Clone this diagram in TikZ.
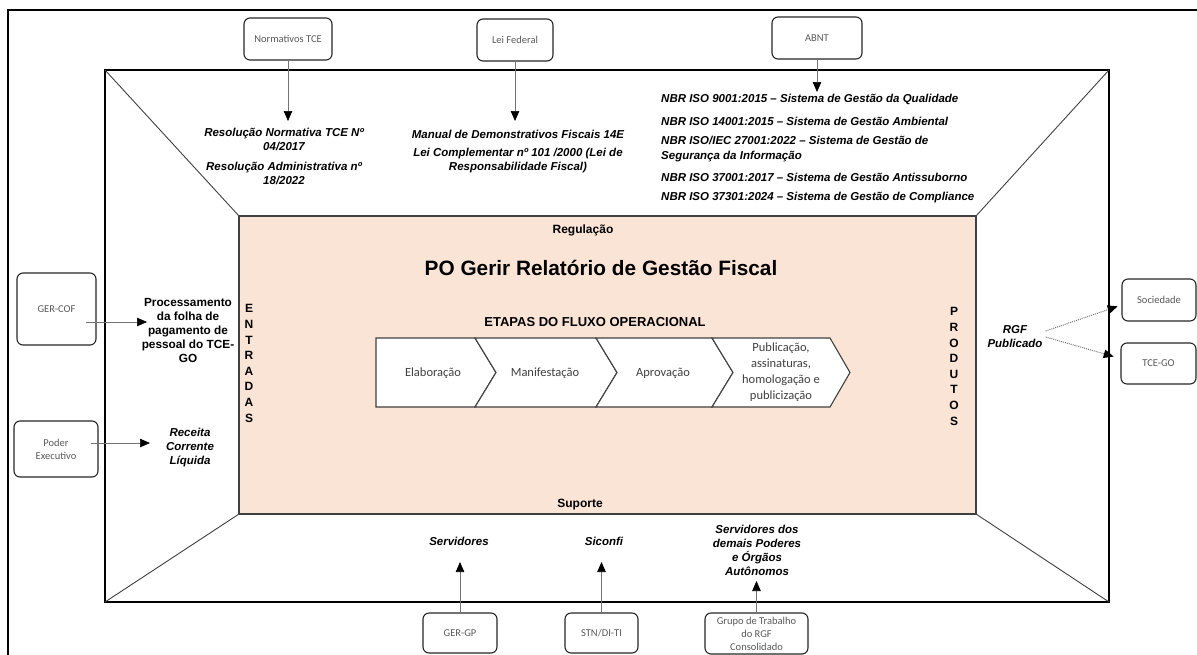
\documentclass[tikz,border=0pt]{standalone}
\usepackage{fontspec}
\setmainfont{Liberation Sans}
\newfontfamily\calib{Carlito}
\usetikzlibrary{arrows.meta,calc}
\definecolor{peach}{HTML}{FAE4D6}
\definecolor{boxtxt}{HTML}{595959}
\definecolor{chevtxt}{HTML}{404040}
\begin{document}
\begin{tikzpicture}[x=1pt,y=-1pt,
  ibox/.style={draw=black!85, line width=1.1pt, rounded corners=6pt, fill=white, text=boxtxt,
    font=\calib\fontsize{10.5}{13}\selectfont, align=center, inner sep=0pt},
  arr/.style={draw=black!55, line width=0.7pt, -{Triangle[length=10pt,width=8.5pt,color=black]}},
  dotarr/.style={draw=black!55, line width=1pt, dash pattern=on 1pt off 1pt, -{Triangle[length=10pt,width=8.5pt,color=black]}},
  itxt/.style={font=\bfseries\itshape\fontsize{11.5}{14}\selectfont, align=center, inner sep=0pt},
  btxt/.style={font=\bfseries\fontsize{11.8}{13.8}\selectfont, align=center, inner sep=0pt},
  ltxt/.style={font=\bfseries\itshape\fontsize{11.5}{15}\selectfont, align=left, inner sep=0pt, anchor=west},
  vtxt/.style={font=\bfseries\fontsize{12}{15.6}\selectfont, align=center, inner sep=0pt},
  chev/.style={draw=chevtxt, line width=1.1pt, fill=white, line join=miter},
  ctxt/.style={font=\calib\fontsize{12.5}{16}\selectfont, text=chevtxt, align=center, inner sep=0pt},
  diag/.style={draw=black!75, line width=0.9pt}
]
\useasboundingbox (0,0) rectangle (1197,654);
% outer frame (cut by page)
\draw[line width=2.2pt] (8,660) -- (8,10) -- (1200,10);
% inner frame
\draw[line width=2.8pt] (105,70) rectangle (1109,602);
% diagonals
\draw[diag] (105,70) -- (239,216);
\draw[diag] (1109,70) -- (976,216);
\draw[diag] (105,602) -- (239,514);
\draw[diag] (1109,602) -- (976,514);
% central panel
\draw[fill=peach, draw=black!75, line width=1.1pt] (239,216) rectangle (976,514);
\node[font=\bfseries\fontsize{12}{14}\selectfont, inner sep=0pt] (reg) at (583,230) {Regulação};
\node[font=\bfseries\fontsize{20.8}{24}\selectfont, inner sep=0pt] (title) at (601,268) {PO Gerir Relatório de Gestão Fiscal};
\node[font=\bfseries\fontsize{13}{15}\selectfont, inner sep=0pt] (etapas) at (595,322) {ETAPAS DO FLUXO OPERACIONAL};
\node[font=\bfseries\fontsize{12}{14}\selectfont, inner sep=0pt] (sup) at (580,505) {Suporte};
\node[vtxt] (entr) at (249,363.5) {E\\N\\T\\R\\A\\D\\A\\S};
\node[vtxt] (prod) at (954,366.5) {P\\R\\O\\D\\U\\T\\O\\S};
% chevrons
\draw[chev] (376,338) -- (475,338) -- (496,372.5) -- (475,407) -- (376,407) -- cycle;
\draw[chev] (475,338) -- (596,338) -- (617,372.5) -- (596,407) -- (475,407) -- (496,372.5) -- cycle;
\draw[chev] (596,338) -- (712,338) -- (733,372.5) -- (712,407) -- (596,407) -- (617,372.5) -- cycle;
\draw[chev] (712,338) -- (830,338) -- (850,372.5) -- (830,407) -- (712,407) -- (733,372.5) -- cycle;
\node[ctxt] (c1) at (433,373) {Elaboração};
\node[ctxt] (c2) at (545,373) {Manifestação};
\node[ctxt] (c3) at (663,373) {Aprovação};
\node[ctxt] (c4) at (781,372) {Publicação,\\assinaturas,\\homologação e\\publicização};
% top boxes
\node[ibox, minimum width=88pt, minimum height=42pt] (ntce) at (288,39) {Normativos TCE};
\node[ibox, minimum width=76pt, minimum height=42pt] (lei) at (515,40) {Lei Federal};
\node[ibox, minimum width=90pt, minimum height=42pt] (abnt) at (817,38) {ABNT};
\coordinate (tn) at (288,121);
\coordinate (tl) at (515,121);
\coordinate (ta) at (817,92);
\draw[arr] (ntce.south) -- (tn);
\draw[arr] (lei.south) -- (tl);
\draw[arr] (abnt.south) -- (ta);
\node[itxt] (res1) at (284,139) {Resolução Normativa TCE Nº\\04/2017};
\node[itxt] (res2) at (284,173.5) {Resolução Administrativa nº\\18/2022};
\node[itxt] (man) at (518,134) {Manual de Demonstrativos Fiscais 14E};
\node[itxt] (lrf) at (518,161) {Lei Complementar nº 101 /2000 (Lei de\\Responsabilidade Fiscal)};
\node[ltxt] (n1) at (661,99) {NBR ISO 9001:2015 – Sistema de Gestão da Qualidade};
\node[ltxt] (n2) at (661,121) {NBR ISO 14001:2015 – Sistema de Gestão Ambiental};
\node[ltxt] (n3) at (661,149.5) {NBR ISO/IEC 27001:2022 – Sistema de Gestão de\\Segurança da Informação};
\node[ltxt] (n4) at (661,177) {NBR ISO 37001:2017 – Sistema de Gestão Antissuborno};
\node[ltxt] (n5) at (661,198) {NBR ISO 37301:2024 – Sistema de Gestão de Compliance};
% left boxes
\node[ibox, minimum width=79pt, minimum height=72pt] (gercof) at (56.5,309) {GER-COF};
\node[ibox, minimum width=84pt, minimum height=56pt] (poder) at (56,449) {Poder\\Executivo};
\node[btxt] (proc) at (188,330.5) {Processamento\\da folha de\\pagamento de\\pessoal do TCE-\\GO};
\node[itxt] (rcl) at (190,448) {Receita\\Corrente\\Líquida};
\coordinate (lg) at (147,322);
\coordinate (lp) at (150,443);
\draw[arr] ([xshift=-11pt,yshift=-13pt]gercof.east) -- (lg);
\draw[arr] ([xshift=-8pt,yshift=6pt]poder.east) -- (lp);
% right boxes
\node[ibox, minimum width=74pt, minimum height=42pt] (soc) at (1159,300) {Sociedade};
\node[ibox, minimum width=75pt, minimum height=41pt] (tcego) at (1158.5,363.5) {TCE-GO};
\node[itxt] (rgf) at (1015,337) {RGF\\Publicado};
\draw[dotarr, shorten >=4pt] ([xshift=3pt,yshift=6pt]rgf.east) -- ([yshift=-5pt]soc.west);
\draw[dotarr, shorten >=7pt] ([xshift=3pt]rgf.east) -- ([yshift=5pt]tcego.west);
% bottom boxes
\node[ibox, minimum width=74pt, minimum height=40pt] (gergp) at (460,633) {GER-GP};
\node[ibox, minimum width=73pt, minimum height=40pt] (stn) at (601.5,633) {STN/DI-TI};
\node[ibox, minimum width=103pt, minimum height=41pt] (grupo) at (756.5,633.5) {Grupo de Trabalho\\do RGF\\Consolidado};
\node[itxt] (serv) at (459,541) {Servidores};
\node[itxt] (sic) at (604,541) {Siconfi};
\node[itxt] (servd) at (757,550) {Servidores dos\\demais Poderes\\e Órgãos\\Autônomos};
\coordinate (bg) at (460,562);
\coordinate (bs) at (601.5,562);
\coordinate (bt) at (756.5,581);
\draw[arr] (gergp.north) -- (bg);
\draw[arr] (stn.north) -- (bs);
\draw[arr] (grupo.north) -- (bt);
\end{tikzpicture}
\end{document}
